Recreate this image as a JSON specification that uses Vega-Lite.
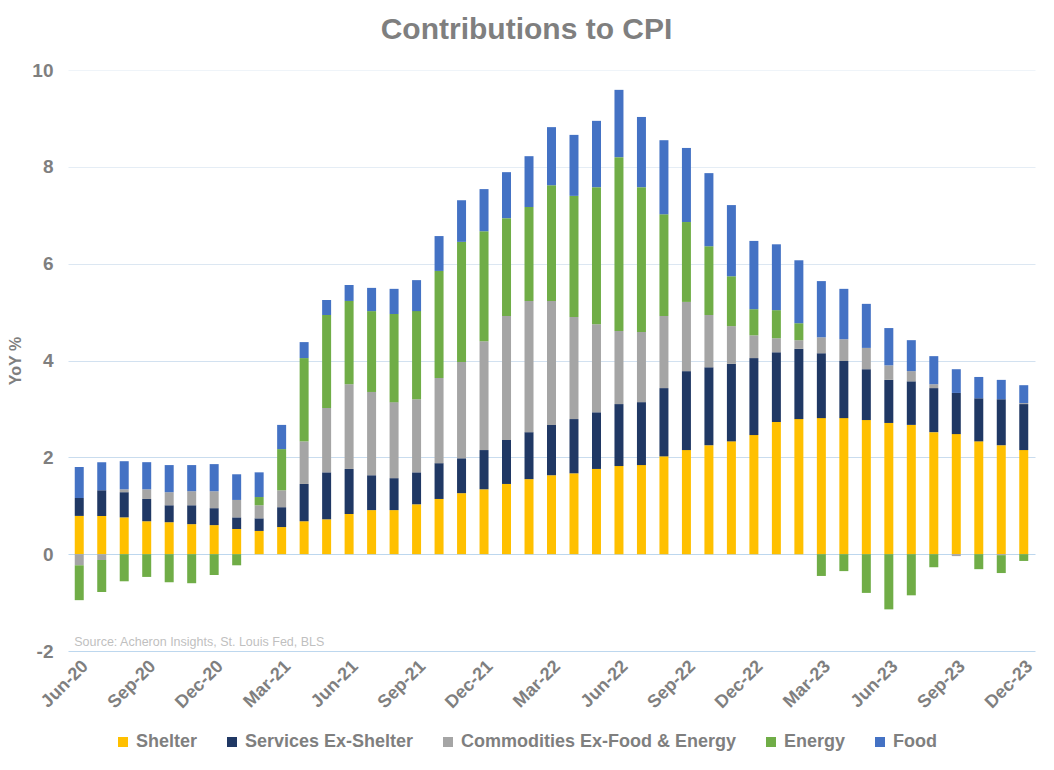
{
  "$schema": "https://vega.github.io/schema/vega-lite/v6.json",
  "width": 967,
  "height": 581,
  "autosize": {"type": "none"},
  "padding": {"left": 68, "top": 70, "right": 19, "bottom": 119},
  "background": "white",
  "title": {
    "text": "Contributions to CPI",
    "font": "Liberation Sans",
    "fontSize": 30,
    "fontWeight": "bold",
    "color": "#7F7F7F",
    "anchor": "middle",
    "dx": -25,
    "offset": -14,
    "baseline": "bottom"
  },
  "config": {
    "view": {"stroke": null},
    "font": "Liberation Sans"
  },
  "datasets": {
    "cpi": [
      {"month": "Jun-20", "Shelter": 0.79, "Services Ex-Shelter": 0.37, "Commodities Ex-Food & Energy": -0.23, "Energy": -0.72, "Food": 0.64},
      {"month": "Jul-20", "Shelter": 0.79, "Services Ex-Shelter": 0.53, "Commodities Ex-Food & Energy": -0.12, "Energy": -0.66, "Food": 0.58},
      {"month": "Aug-20", "Shelter": 0.76, "Services Ex-Shelter": 0.52, "Commodities Ex-Food & Energy": 0.06, "Energy": -0.56, "Food": 0.58},
      {"month": "Sep-20", "Shelter": 0.68, "Services Ex-Shelter": 0.46, "Commodities Ex-Food & Energy": 0.20, "Energy": -0.47, "Food": 0.56},
      {"month": "Oct-20", "Shelter": 0.66, "Services Ex-Shelter": 0.35, "Commodities Ex-Food & Energy": 0.27, "Energy": -0.58, "Food": 0.56},
      {"month": "Nov-20", "Shelter": 0.62, "Services Ex-Shelter": 0.39, "Commodities Ex-Food & Energy": 0.29, "Energy": -0.60, "Food": 0.54},
      {"month": "Dec-20", "Shelter": 0.60, "Services Ex-Shelter": 0.35, "Commodities Ex-Food & Energy": 0.35, "Energy": -0.43, "Food": 0.56},
      {"month": "Jan-21", "Shelter": 0.52, "Services Ex-Shelter": 0.24, "Commodities Ex-Food & Energy": 0.36, "Energy": -0.23, "Food": 0.53},
      {"month": "Feb-21", "Shelter": 0.48, "Services Ex-Shelter": 0.26, "Commodities Ex-Food & Energy": 0.27, "Energy": 0.17, "Food": 0.51},
      {"month": "Mar-21", "Shelter": 0.56, "Services Ex-Shelter": 0.41, "Commodities Ex-Food & Energy": 0.35, "Energy": 0.85, "Food": 0.50},
      {"month": "Apr-21", "Shelter": 0.68, "Services Ex-Shelter": 0.77, "Commodities Ex-Food & Energy": 0.88, "Energy": 1.72, "Food": 0.33},
      {"month": "May-21", "Shelter": 0.72, "Services Ex-Shelter": 0.97, "Commodities Ex-Food & Energy": 1.33, "Energy": 1.92, "Food": 0.31},
      {"month": "Jun-21", "Shelter": 0.83, "Services Ex-Shelter": 0.93, "Commodities Ex-Food & Energy": 1.75, "Energy": 1.72, "Food": 0.33},
      {"month": "Jul-21", "Shelter": 0.91, "Services Ex-Shelter": 0.72, "Commodities Ex-Food & Energy": 1.72, "Energy": 1.67, "Food": 0.48},
      {"month": "Aug-21", "Shelter": 0.91, "Services Ex-Shelter": 0.66, "Commodities Ex-Food & Energy": 1.57, "Energy": 1.82, "Food": 0.52},
      {"month": "Sep-21", "Shelter": 1.03, "Services Ex-Shelter": 0.66, "Commodities Ex-Food & Energy": 1.51, "Energy": 1.82, "Food": 0.64},
      {"month": "Oct-21", "Shelter": 1.14, "Services Ex-Shelter": 0.74, "Commodities Ex-Food & Energy": 1.76, "Energy": 2.21, "Food": 0.72},
      {"month": "Nov-21", "Shelter": 1.26, "Services Ex-Shelter": 0.72, "Commodities Ex-Food & Energy": 1.99, "Energy": 2.48, "Food": 0.86},
      {"month": "Dec-21", "Shelter": 1.34, "Services Ex-Shelter": 0.81, "Commodities Ex-Food & Energy": 2.25, "Energy": 2.27, "Food": 0.87},
      {"month": "Jan-22", "Shelter": 1.45, "Services Ex-Shelter": 0.91, "Commodities Ex-Food & Energy": 2.56, "Energy": 2.02, "Food": 0.95},
      {"month": "Feb-22", "Shelter": 1.55, "Services Ex-Shelter": 0.97, "Commodities Ex-Food & Energy": 2.71, "Energy": 1.94, "Food": 1.05},
      {"month": "Mar-22", "Shelter": 1.63, "Services Ex-Shelter": 1.04, "Commodities Ex-Food & Energy": 2.56, "Energy": 2.39, "Food": 1.20},
      {"month": "Apr-22", "Shelter": 1.67, "Services Ex-Shelter": 1.12, "Commodities Ex-Food & Energy": 2.11, "Energy": 2.50, "Food": 1.26},
      {"month": "May-22", "Shelter": 1.76, "Services Ex-Shelter": 1.17, "Commodities Ex-Food & Energy": 1.82, "Energy": 2.83, "Food": 1.37},
      {"month": "Jun-22", "Shelter": 1.82, "Services Ex-Shelter": 1.28, "Commodities Ex-Food & Energy": 1.51, "Energy": 3.59, "Food": 1.39},
      {"month": "Jul-22", "Shelter": 1.84, "Services Ex-Shelter": 1.30, "Commodities Ex-Food & Energy": 1.45, "Energy": 2.99, "Food": 1.45},
      {"month": "Aug-22", "Shelter": 2.02, "Services Ex-Shelter": 1.41, "Commodities Ex-Food & Energy": 1.49, "Energy": 2.10, "Food": 1.53},
      {"month": "Sep-22", "Shelter": 2.15, "Services Ex-Shelter": 1.63, "Commodities Ex-Food & Energy": 1.43, "Energy": 1.65, "Food": 1.53},
      {"month": "Oct-22", "Shelter": 2.25, "Services Ex-Shelter": 1.61, "Commodities Ex-Food & Energy": 1.08, "Energy": 1.42, "Food": 1.51},
      {"month": "Nov-22", "Shelter": 2.33, "Services Ex-Shelter": 1.60, "Commodities Ex-Food & Energy": 0.78, "Energy": 1.03, "Food": 1.47},
      {"month": "Dec-22", "Shelter": 2.46, "Services Ex-Shelter": 1.59, "Commodities Ex-Food & Energy": 0.47, "Energy": 0.54, "Food": 1.41},
      {"month": "Jan-23", "Shelter": 2.73, "Services Ex-Shelter": 1.44, "Commodities Ex-Food & Energy": 0.29, "Energy": 0.58, "Food": 1.36},
      {"month": "Feb-23", "Shelter": 2.79, "Services Ex-Shelter": 1.45, "Commodities Ex-Food & Energy": 0.18, "Energy": 0.35, "Food": 1.30},
      {"month": "Mar-23", "Shelter": 2.81, "Services Ex-Shelter": 1.34, "Commodities Ex-Food & Energy": 0.33, "Energy": -0.45, "Food": 1.16},
      {"month": "Apr-23", "Shelter": 2.81, "Services Ex-Shelter": 1.18, "Commodities Ex-Food & Energy": 0.45, "Energy": -0.35, "Food": 1.04},
      {"month": "May-23", "Shelter": 2.77, "Services Ex-Shelter": 1.05, "Commodities Ex-Food & Energy": 0.44, "Energy": -0.80, "Food": 0.91},
      {"month": "Jun-23", "Shelter": 2.71, "Services Ex-Shelter": 0.89, "Commodities Ex-Food & Energy": 0.30, "Energy": -1.14, "Food": 0.77},
      {"month": "Jul-23", "Shelter": 2.67, "Services Ex-Shelter": 0.90, "Commodities Ex-Food & Energy": 0.21, "Energy": -0.85, "Food": 0.64},
      {"month": "Aug-23", "Shelter": 2.52, "Services Ex-Shelter": 0.91, "Commodities Ex-Food & Energy": 0.08, "Energy": -0.27, "Food": 0.58},
      {"month": "Sep-23", "Shelter": 2.48, "Services Ex-Shelter": 0.85, "Commodities Ex-Food & Energy": -0.04, "Energy": 0.0, "Food": 0.49},
      {"month": "Oct-23", "Shelter": 2.33, "Services Ex-Shelter": 0.89, "Commodities Ex-Food & Energy": 0.0, "Energy": -0.31, "Food": 0.44},
      {"month": "Nov-23", "Shelter": 2.25, "Services Ex-Shelter": 0.95, "Commodities Ex-Food & Energy": -0.02, "Energy": -0.37, "Food": 0.40},
      {"month": "Dec-23", "Shelter": 2.15, "Services Ex-Shelter": 0.95, "Commodities Ex-Food & Energy": 0.02, "Energy": -0.14, "Food": 0.37}
    ],
    "categories": [
      {"category": "Shelter", "rank": 1},
      {"category": "Services Ex-Shelter", "rank": 2},
      {"category": "Commodities Ex-Food & Energy", "rank": 3},
      {"category": "Energy", "rank": 4},
      {"category": "Food", "rank": 5}
    ],
    "note": [
      {"month": "Jun-20", "y": -1.9, "label": "Source: Acheron Insights, St. Louis Fed, BLS"}
    ]
  },
  "layer": [
    {
      "data": {"name": "cpi"},
      "transform": [
        {"fold": ["Shelter", "Services Ex-Shelter", "Commodities Ex-Food & Energy", "Energy", "Food"], "as": ["category", "value"]},
        {"lookup": "category", "from": {"data": {"name": "categories"}, "key": "category", "fields": ["rank"]}}
      ],
      "mark": {"type": "bar"},
      "encoding": {
        "x": {
          "field": "month",
          "type": "ordinal",
          "sort": null,
          "scale": {"paddingInner": 0.6, "paddingOuter": 0.3},
          "axis": {
            "title": null,
            "values": ["Jun-20", "Sep-20", "Dec-20", "Mar-21", "Jun-21", "Sep-21", "Dec-21", "Mar-22", "Jun-22", "Sep-22", "Dec-22", "Mar-23", "Jun-23", "Sep-23", "Dec-23"],
            "labelAngle": -45,
            "labelFontSize": 18,
            "labelFontWeight": "bold",
            "labelColor": "#7F7F7F",
            "labelPadding": 6,
            "ticks": false,
            "domain": false
          }
        },
        "y": {
          "field": "value",
          "type": "quantitative",
          "stack": "zero",
          "scale": {"domain": [-2, 10], "nice": false},
          "axis": {
            "title": "YoY %",
            "titleFontSize": 16,
            "titleFontWeight": "bold",
            "titleColor": "#7F7F7F",
            "titlePadding": 8,
            "values": [-2, 0, 2, 4, 6, 8, 10],
            "labelExpr": "replace(datum.label, '\u2212', '-')",
            "labelFontSize": 19,
            "labelFontWeight": "bold",
            "labelColor": "#7F7F7F",
            "labelPadding": 15,
            "ticks": false,
            "domain": false,
            "gridWidth": 1,
            "gridColor": {
              "condition": [
                {"test": "datum.value >= 10", "value": "#EFF4F9"},
                {"test": "datum.value >= 8", "value": "#E5EDF5"},
                {"test": "datum.value >= 6", "value": "#DCE7F2"},
                {"test": "datum.value >= 4", "value": "#D2E1F0"},
                {"test": "datum.value >= 2", "value": "#C9DCEE"}
              ],
              "value": "#BDD7EE"
            }
          }
        },
        "order": {"field": "rank", "type": "quantitative", "sort": "ascending"},
        "color": {
          "field": "category",
          "type": "nominal",
          "sort": ["Shelter", "Services Ex-Shelter", "Commodities Ex-Food & Energy", "Energy", "Food"],
          "scale": {
            "domain": ["Shelter", "Services Ex-Shelter", "Commodities Ex-Food & Energy", "Energy", "Food"],
            "range": ["#FFC000", "#203864", "#A5A5A5", "#70AD47", "#4472C4"]
          },
          "legend": {
            "title": null,
            "orient": "none",
            "direction": "horizontal",
            "legendX": 46,
            "legendY": 663,
            "symbolType": "square",
            "symbolSize": 100,
            "symbolStrokeWidth": 0,
            "symbolOpacity": 1,
            "labelFontSize": 18,
            "labelFontWeight": "bold",
            "labelColor": "#7F7F7F",
            "labelLimit": 0,
            "labelOffset": 4,
            "columnPadding": 25
          }
        }
      }
    },
    {
      "data": {"name": "note"},
      "mark": {"type": "text", "align": "left", "baseline": "alphabetic", "dx": -5, "fontSize": 12.5, "color": "#BFBFBF"},
      "encoding": {
        "x": {"field": "month", "type": "ordinal", "sort": null},
        "y": {"field": "y", "type": "quantitative"},
        "text": {"field": "label"}
      }
    }
  ]
}
